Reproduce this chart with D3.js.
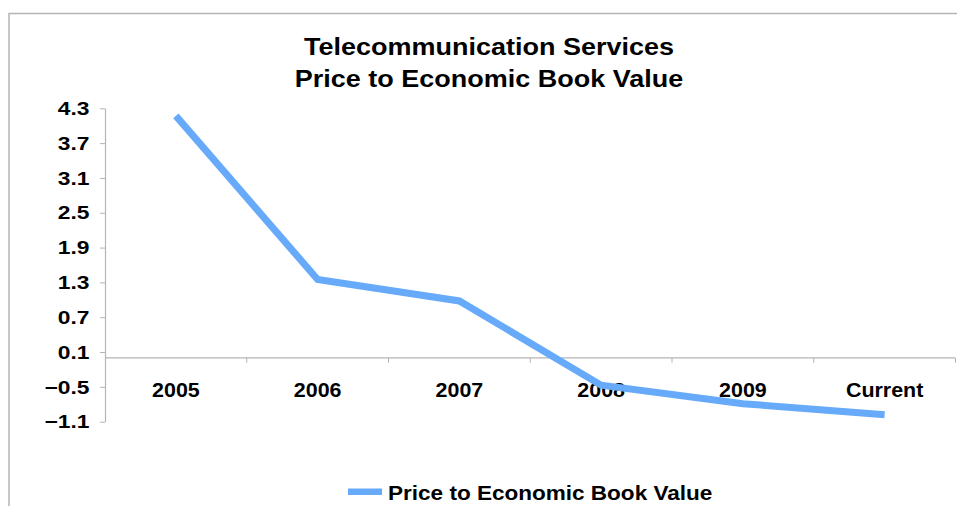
<!DOCTYPE html>
<html>
<head>
<meta charset="utf-8">
<script src="https://cdn.jsdelivr.net/npm/d3@7/dist/d3.min.js"></script>
<style>
  html, body { margin: 0; padding: 0; background: #fff; }
  svg { display: block; }
  text { font-family: "Liberation Sans", Arial, sans-serif; font-weight: bold; fill: #000; }
</style>
</head>
<body>
<svg id="chart" width="957" height="506"></svg>
<script>
// Chart data
const categories = ["2005", "2006", "2007", "2008", "2009", "Current"];
const values = [4.17, 1.35, 0.98, -0.47, -0.79, -0.98];
const yTickValues = [4.3, 3.7, 3.1, 2.5, 1.9, 1.3, 0.7, 0.1, -0.5, -1.1];
const titleLines = ["Telecommunication Services", "Price to Economic Book Value"];
const seriesName = "Price to Economic Book Value";

const W = 957, H = 506;
const plot = { left: 105, right: 955.5, top: 108.3, bottom: 421.7 };
const lineColor = "#66aaf9";
const axisColor = "#b5b5b5";
const sx = 1.1; // horizontal text widening

const svg = d3.select("#chart");

// Outer frame
svg.append("rect")
  .attr("x", 9).attr("y", 13.5)
  .attr("width", W + 20).attr("height", H + 20)
  .attr("fill", "none").attr("stroke", "#b5b5b5").attr("stroke-width", 1.5);

// Title
svg.selectAll("text.title")
  .data(titleLines)
  .join("text")
  .attr("class", "title")
  .attr("text-anchor", "middle")
  .attr("font-size", 24)
  .attr("transform", (d, i) => `translate(489,${55 + i * 32}) scale(1.125,1)`)
  .text(d => d);

// Scales
const y = d3.scaleLinear().domain([-1.1, 4.3]).range([plot.bottom, plot.top]);
const x = d3.scaleBand().domain(categories).range([plot.left, plot.right]).padding(0);
const xc = d => x(d) + x.bandwidth() / 2;

// Y axis: line and tick marks
const yAxis = svg.append("g")
  .attr("transform", `translate(${plot.left},0)`)
  .call(d3.axisLeft(y).tickValues(yTickValues).tickSize(5).tickSizeOuter(0).tickFormat(""));
yAxis.select(".domain").attr("stroke", axisColor).attr("stroke-width", 1.2);
yAxis.selectAll(".tick line").attr("stroke", axisColor);

// Y tick labels
svg.append("g").selectAll("text.ylab")
  .data(yTickValues)
  .join("text")
  .attr("class", "ylab")
  .attr("text-anchor", "end")
  .attr("font-size", 19)
  .attr("transform", d => `translate(${plot.left - 15.5},${y(d) + 6.7}) scale(1.2,1)`)
  .text(d3.format(".1f"));

// X axis line at zero with boundary ticks
const boundaries = categories.map(c => x(c)).concat([plot.right]);
const xAxis = svg.append("g").attr("transform", `translate(0,${y(0)})`);
xAxis.append("line")
  .attr("x1", plot.left).attr("x2", plot.right)
  .attr("stroke", axisColor).attr("stroke-width", 1.2);
xAxis.selectAll("line.tk")
  .data(boundaries.slice(1))
  .join("line")
  .attr("class", "tk")
  .attr("x1", d => d).attr("x2", d => d)
  .attr("y1", 0).attr("y2", 5)
  .attr("stroke", axisColor);

// Category labels
svg.selectAll("text.cat")
  .data(categories)
  .join("text")
  .attr("class", "cat")
  .attr("text-anchor", "middle")
  .attr("font-size", 19.5)
  .attr("transform", d => `translate(${xc(d)},396.5) scale(${sx},1)`)
  .text(d => d);

// Series line
const line = d3.line()
  .x((d, i) => xc(categories[i]))
  .y(d => y(d));
svg.append("path")
  .datum(values)
  .attr("d", line)
  .attr("fill", "none")
  .attr("stroke", lineColor)
  .attr("stroke-width", 7)
  .attr("stroke-linejoin", "miter");

// Legend
const legend = svg.append("g");
legend.append("line")
  .attr("x1", 348).attr("x2", 382)
  .attr("y1", 491.7).attr("y2", 491.7)
  .attr("stroke", lineColor).attr("stroke-width", 6.5);
legend.append("text")
  .attr("font-size", 20.5)
  .attr("transform", `translate(388,500) scale(${sx},1)`)
  .text(seriesName);
</script>
</body>
</html>
